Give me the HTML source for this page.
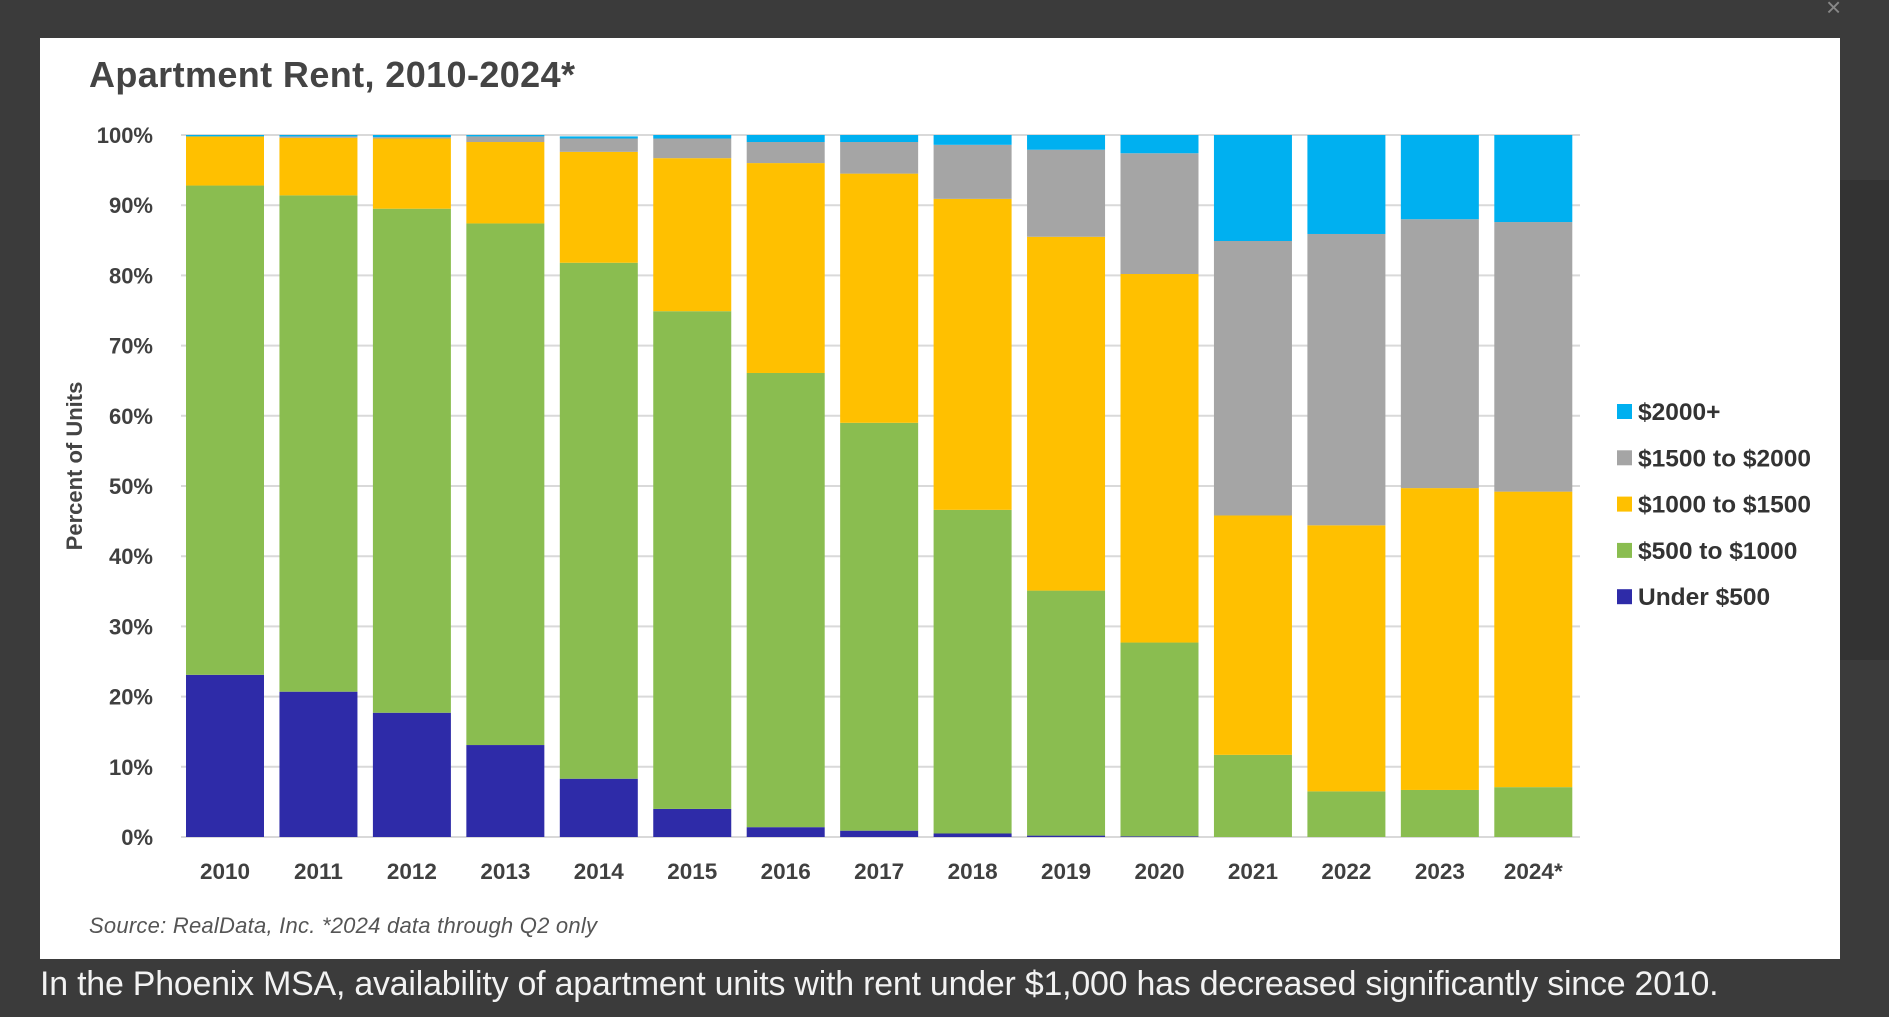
<!DOCTYPE html>
<html><head><meta charset="utf-8"><style>
body{margin:0;width:1889px;height:1017px;background:#3b3b3b;overflow:hidden;position:relative;font-family:"Liberation Sans",sans-serif}
#panel{position:absolute;left:40px;top:38px;width:1800px;height:921px;background:#fff}
#caption{position:absolute;left:40px;top:965px;color:#f2f2f2;font-size:33.9px;white-space:nowrap;letter-spacing:-0.2px}
#bgright{position:absolute;left:1840px;top:180px;width:49px;height:480px;background:#333}
</style></head><body>
<div id="bgright"></div>
<div id="panel"></div>
<svg id="chart" width="1889" height="1017" style="position:absolute;left:0;top:0">
<text x="1826" y="16" fill="#888" font-size="26" font-family="Liberation Sans">×</text>
<text x="89" y="87" font-size="36" font-weight="bold" fill="#444" font-family="Liberation Sans" textLength="486">Apartment Rent, 2010-2024*</text>
<text transform="translate(82,466) rotate(-90)" text-anchor="middle" font-size="22" font-weight="bold" fill="#444" font-family="Liberation Sans">Percent of Units</text>
<text x="89" y="933" font-size="22" font-style="italic" fill="#555" font-family="Liberation Sans" textLength="508">Source: RealData, Inc. *2024 data through Q2 only</text>
<g id="grid"></g><g id="bars"></g><g id="xl"></g><g id="legend"></g>
</svg>
<div id="caption">In the Phoenix MSA, availability of apartment units with rent under $1,000 has decreased significantly since 2010.</div>
<script>
const categories=["2010","2011","2012","2013","2014","2015","2016","2017","2018","2019","2020","2021","2022","2023","2024*"];
const under500=[23.1,20.7,17.7,13.1,8.3,4.0,1.4,0.9,0.5,0.2,0.1,0,0,0,0];
const r500to1000=[69.7,70.7,71.8,74.3,73.5,70.9,64.7,58.1,46.1,34.9,27.6,11.7,6.5,6.7,7.1];
const r1000to1500=[7.0,8.2,10.0,11.6,15.8,21.8,29.9,35.5,44.3,50.4,52.5,34.1,37.9,43.0,42.1];
const r1500to2000=[0,0.2,0.2,0.8,1.9,2.8,3.0,4.5,7.7,12.4,17.2,39.1,41.5,38.3,38.4];
const r2000plus=[0.2,0.2,0.3,0.2,0.3,0.5,1.0,1.0,1.4,2.1,2.6,15.1,14.1,12.0,12.4];
const yTicks=[0,10,20,30,40,50,60,70,80,90,100];
const seriesNames=["Under $500","$500 to $1000","$1000 to $1500","$1500 to $2000","$2000+"];
const seriesColors=["#2e2ba8","#8abd50","#ffc000","#a5a5a5","#00b0f0"];
const series=[under500,r500to1000,r1000to1500,r1500to2000,r2000plus];
const NS="http://www.w3.org/2000/svg";
const y0=837,y1=135,xL=181,xR=1580,pitch=93.45,bw=78,firstX=186;
const yS=v=>y0-(v/100)*(y0-y1);
const xS=i=>firstX+i*pitch;
function mk(t,a,p){const e=document.createElementNS(NS,t);for(const k in a)e.setAttribute(k,a[k]);p.appendChild(e);return e;}
const G=document.getElementById('grid');
yTicks.forEach(t=>{
 const l=mk('line',{x1:xL,x2:xR,y1:yS(t),y2:yS(t),stroke:'#d9d9d9','stroke-width':2},G);
 
 
 const tx=mk('text',{x:153,y:yS(t)+8,'text-anchor':'end','font-size':22,'font-weight':'bold',fill:'#404040','font-family':'Liberation Sans'},G);
 tx.textContent=t+'%';
 
 
});
const B=document.getElementById('bars');
categories.forEach((c,i)=>{
 let cum=0;
 series.forEach((s,k)=>{
  const v=s[i];if(v<=0){return;}
  const r=mk('rect',{x:xS(i),y:yS(cum+v),width:bw,height:yS(cum)-yS(cum+v),fill:seriesColors[k]},B);
  
  
  cum+=v;
 });
 const tx=mk('text',{x:xS(i)+bw/2,y:879,'text-anchor':'middle','font-size':22.5,'font-weight':'bold',fill:'#404040','font-family':'Liberation Sans'},document.getElementById('xl'));
 tx.textContent=c;
 
 
});
const L=document.getElementById('legend');
for(let k=4;k>=0;k--){
 const yy=412+(4-k)*46.3;
 const r=mk('rect',{x:1617,y:yy-8,width:15,height:15,fill:seriesColors[k]},L);
 
 
 const t=mk('text',{x:1638,y:yy+8,'font-size':24.5,'font-weight':'bold',fill:'#333','font-family':'Liberation Sans'},L);
 t.textContent=seriesNames[k];
 
 
}
</script>
</body></html>
